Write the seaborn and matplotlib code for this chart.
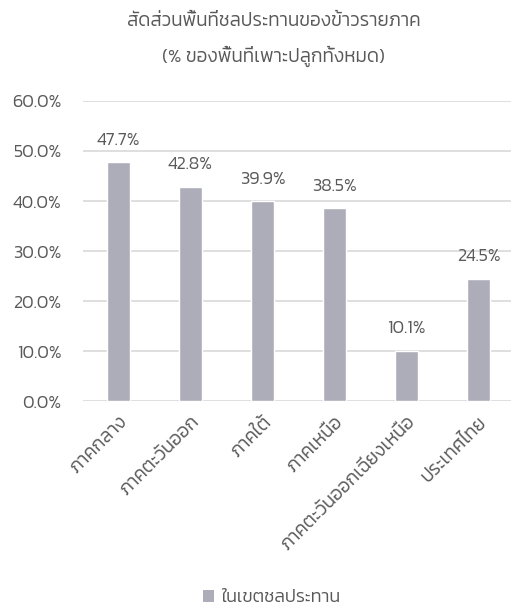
import matplotlib
matplotlib.use("Agg")
import matplotlib.pyplot as plt
import seaborn as sns
import pandas as pd
from matplotlib.ticker import FuncFormatter
from matplotlib.patches import Patch

regions = ["ภาคกลาง", "ภาคตะวันออก", "ภาคใต้", "ภาคเหนือ", "ภาคตะวันออกเฉียงเหนือ", "ประเทศไทย"]
irrigated_pct = [47.7, 42.8, 39.9, 38.5, 10.1, 24.5]
series_name = "ในเขตชลประทาน"
title_text = "สัดส่วนพื้นที่ชลประทานของข้าวรายภาค\n(% ของพื้นที่เพาะปลูกทั้งหมด)"
y_ticks = [0, 10, 20, 30, 40, 50, 60]

sns.set_theme(style="white")
plt.rcParams["font.family"] = ["Kanit", "DejaVu Sans"]
plt.rcParams["font.weight"] = 300

TXT = "#595959"
BAR = "#ADADB9"
GRID = "#D9D9D9"
FS = 13

df = pd.DataFrame({"region": regions, "pct": irrigated_pct})

W, H = 511, 610
fig = plt.figure(figsize=(W / 100, H / 100), dpi=100)
ax = fig.add_axes([82.5 / W, (H - 401) / H, 432 / W, 300 / H])

sns.barplot(data=df, x="region", y="pct", color=BAR, width=0.32, ax=ax,
            saturation=1, zorder=3)
ax.set_xlim(-0.5, len(regions) - 0.5)
ax.set_ylim(0, 60)
ax.set_yticks(y_ticks)
ax.yaxis.set_major_formatter(FuncFormatter(lambda v, p: f"{v:.1f}%"))
ax.grid(axis="y", color=GRID, linewidth=1.2, zorder=0)
for s in ax.spines.values():
    s.set_visible(False)
ax.tick_params(axis="y", length=0, pad=15, labelsize=FS, labelcolor=TXT)
ax.tick_params(axis="x", length=0, pad=9, labelsize=13.6, labelcolor=TXT)
ax.set_xlabel("")
ax.set_ylabel("")
for lab in ax.get_xticklabels():
    lab.set_rotation(45)
    lab.set_ha("right")
    lab.set_rotation_mode("anchor")

for i, v in enumerate(irrigated_pct):
    ax.annotate(f"{v:.1f}%", xy=(i, v), xytext=(0, 16), textcoords="offset points",
                ha="center", va="center", fontsize=FS, color=TXT)

fig.text(274 / W, 1 - 22 / H, title_text.split("\n")[0], ha="center", va="center",
         fontsize=13.6, color=TXT)
fig.text(273 / W, 1 - 56 / H, title_text.split("\n")[1], ha="center", va="center",
         fontsize=13.6, color=TXT)

fig.legend(handles=[Patch(facecolor=BAR, edgecolor="none", label=series_name)],
           loc="center", bbox_to_anchor=(272 / W, 1 - 598 / H), frameon=False,
           fontsize=FS, labelcolor=TXT, handlelength=0.6, handleheight=0.6,
           handletextpad=0.4)

fig.savefig("out.png", dpi=100)
